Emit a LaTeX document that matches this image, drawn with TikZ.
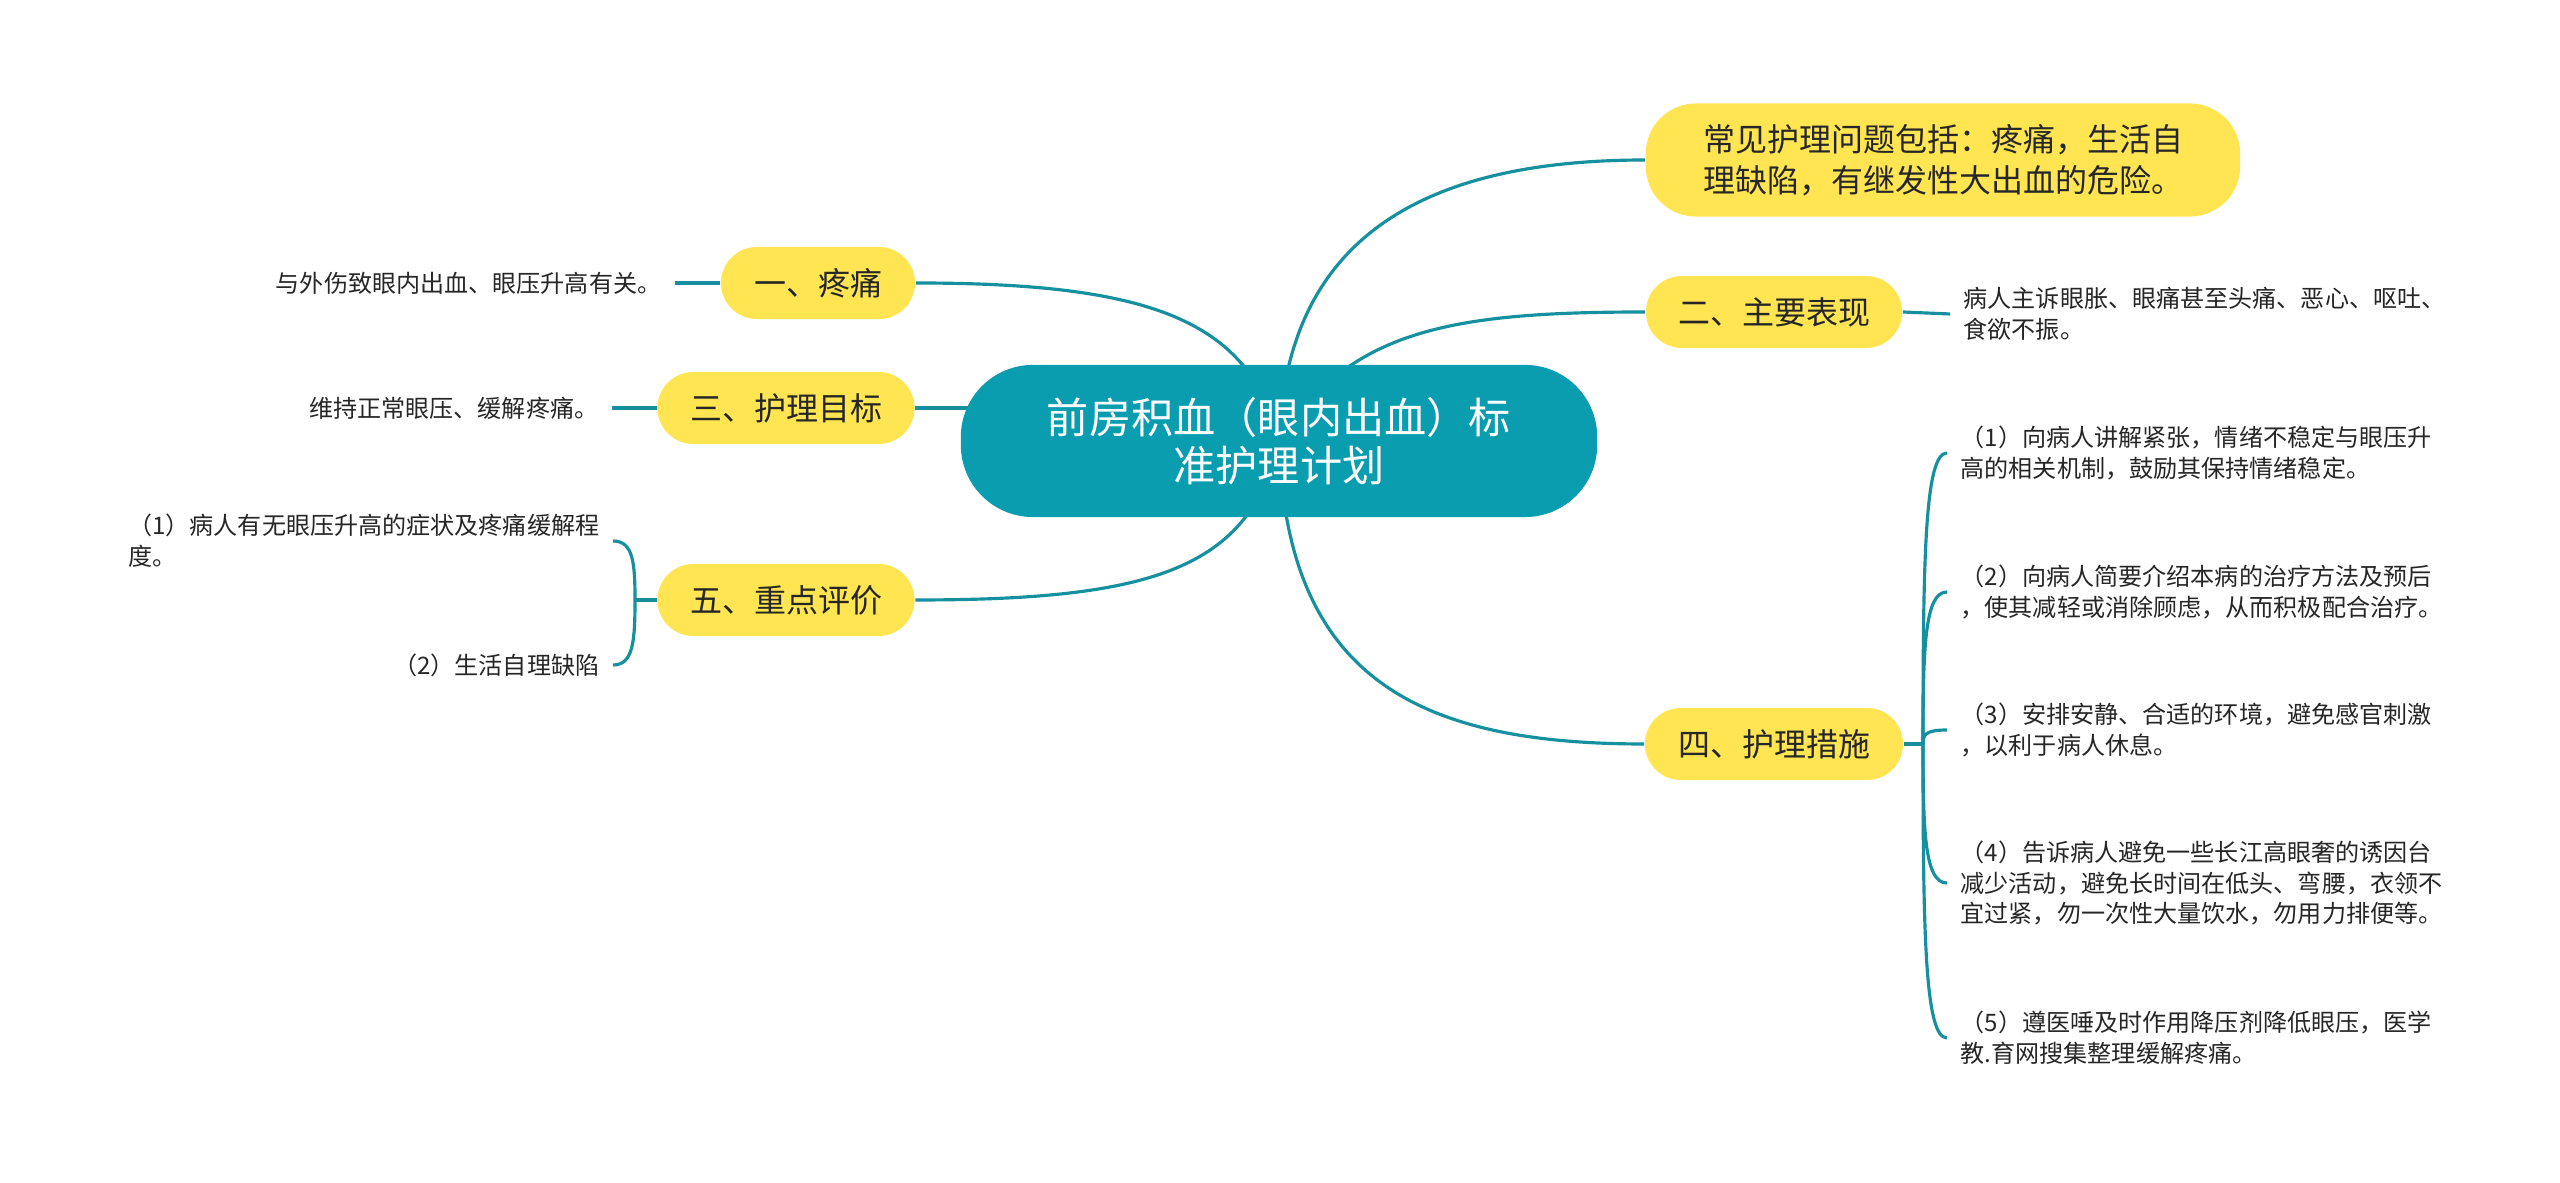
\documentclass[tikz,border=0pt]{standalone}
\usepackage{fontspec}
\setmainfont{Noto Sans CJK SC}
\usetikzlibrary{backgrounds}
\definecolor{rootfill}{HTML}{0A9CAF}
\definecolor{linkcol}{HTML}{16909F}
\definecolor{topicfill}{HTML}{FFE552}
\definecolor{textcol}{HTML}{262626}
\begin{document}
\begin{tikzpicture}[x=0.01cm,y=-0.01cm,
    root/.style={fill=rootfill, text=white, rounded corners=0.72cm, minimum width=6.36cm, minimum height=1.52cm, align=center, font=\fontsize{12pt}{13.7pt}\selectfont},
    topic/.style={fill=topicfill, text=textcol, rounded corners=0.36cm, minimum height=0.72cm, font=\fontsize{9.1pt}{11.7pt}\selectfont},
    leaf/.style={text=textcol, inner xsep=0.13cm, inner ysep=0.05cm, align=left, font=\fontsize{6.85pt}{8.8pt}\selectfont},
    link/.style={draw=linkcol, line width=0.9pt}]
      \useasboundingbox (0,0) rectangle (2560,1183);

      % centre and main topics
      \node[root] (c) at (1279,441) {前房积血（眼内出血）标\\准护理计划};
      \node[topic, minimum width=5.94cm, minimum height=1.13cm, rounded corners=0.5cm, align=left] (n0) at (1943,160) {常见护理问题包括：疼痛，生活自\\理缺陷，有继发性大出血的危险。};
      \node[topic, minimum width=1.94cm] (n1) at (818,283) {一、疼痛};
      \node[topic, minimum width=2.56cm] (n2) at (1774,312) {二、主要表现};
      \node[topic, minimum width=2.57cm] (n3) at (786,408) {三、护理目标};
      \node[topic, minimum width=2.58cm] (n4) at (1774,744) {四、护理措施};
      \node[topic, minimum width=2.57cm] (n5) at (786,600) {五、重点评价};

      % left leaves
      \node[leaf, anchor=east] (t1) at (675,283) {与外伤致眼内出血、眼压升高有关。};
      \node[leaf, anchor=east] (t3) at (612,408) {维持正常眼压、缓解疼痛。};
      \node[leaf, anchor=east] (t5a) at (613,541) {（1）病人有无眼压升高的症状及疼痛缓解程\\度。};
      \node[leaf, anchor=east] (t5b) at (613,665) {（2）生活自理缺陷};

      % right leaves
      \node[leaf, anchor=west] (t2) at (1950,314) {病人主诉眼胀、眼痛甚至头痛、恶心、呕吐、\\食欲不振。};
      \node[leaf, anchor=west] (m1) at (1947,453) {（1）向病人讲解紧张，情绪不稳定与眼压升\\高的相关机制，鼓励其保持情绪稳定。};
      \node[leaf, anchor=west] (m2) at (1947,592) {（2）向病人简要介绍本病的治疗方法及预后\\，使其减轻或消除顾虑，从而积极配合治疗。};
      \node[leaf, anchor=west] (m3) at (1947,730) {（3）安排安静、合适的环境，避免感官刺激\\，以利于病人休息。};
      \node[leaf, anchor=west] (m4) at (1947,883) {（4）告诉病人避免一些长江高眼奢的诱因台\\减少活动，避免长时间在低头、弯腰，衣领不\\宜过紧，勿一次性大量饮水，勿用力排便等。};
      \node[leaf, anchor=west] (m5) at (1947,1038) {（5）遵医唾及时作用降压剂降低眼压，医学\\教.育网搜集整理缓解疼痛。};

      \coordinate (h5) at (635,600);
      \coordinate (h4) at (1923,744);

      \begin{scope}[on background layer]
        \fill[white] (0,0) rectangle (2560,1183);
        % branches from the centre
        \draw[link] (c.center) .. controls (1286,240) and (1420,160) .. (n0.west);
        \draw[link] (c.center) .. controls (1350,330) and (1450,312) .. (n2.west);
        \draw[link] (c.center) .. controls (1286,680) and (1420,744) .. (n4.west);
        \draw[link] (c.center) .. controls (1250,320) and (1150,283) .. (n1.east);
        \draw[link] (n3.east) -- (n3.east -| c.center);
        \draw[link] (c.center) .. controls (1250,570) and (1150,600) .. (n5.east);

        \draw[link] (t1.east) -- (n1.west);
        \draw[link] (t3.east) -- (n3.west);
        \draw[link] (n2.east) -- (t2.west);

        % brace of 五
        \draw[link] (n5.west) -- (h5);
        \draw[link] (h5) .. controls (635,562) and (633,541) .. (t5a.east);
        \draw[link] (h5) .. controls (635,642) and (633,665) .. (t5b.east);

        % brace of 四
        \draw[link] (n4.east) -- (h4);
        \draw[link] (h4) .. controls (1923,555) and (1925,453) .. (m1.west);
        \draw[link] (h4) .. controls (1923,645) and (1925,592) .. (m2.west);
        \draw[link] (h4) .. controls (1923,735) and (1925,730) .. (m3.west);
        \draw[link] (h4) .. controls (1923,834) and (1925,883) .. (m4.west);
        \draw[link] (h4) .. controls (1923,935) and (1925,1038) .. (m5.west);
      \end{scope}

    \end{tikzpicture}
\end{document}
